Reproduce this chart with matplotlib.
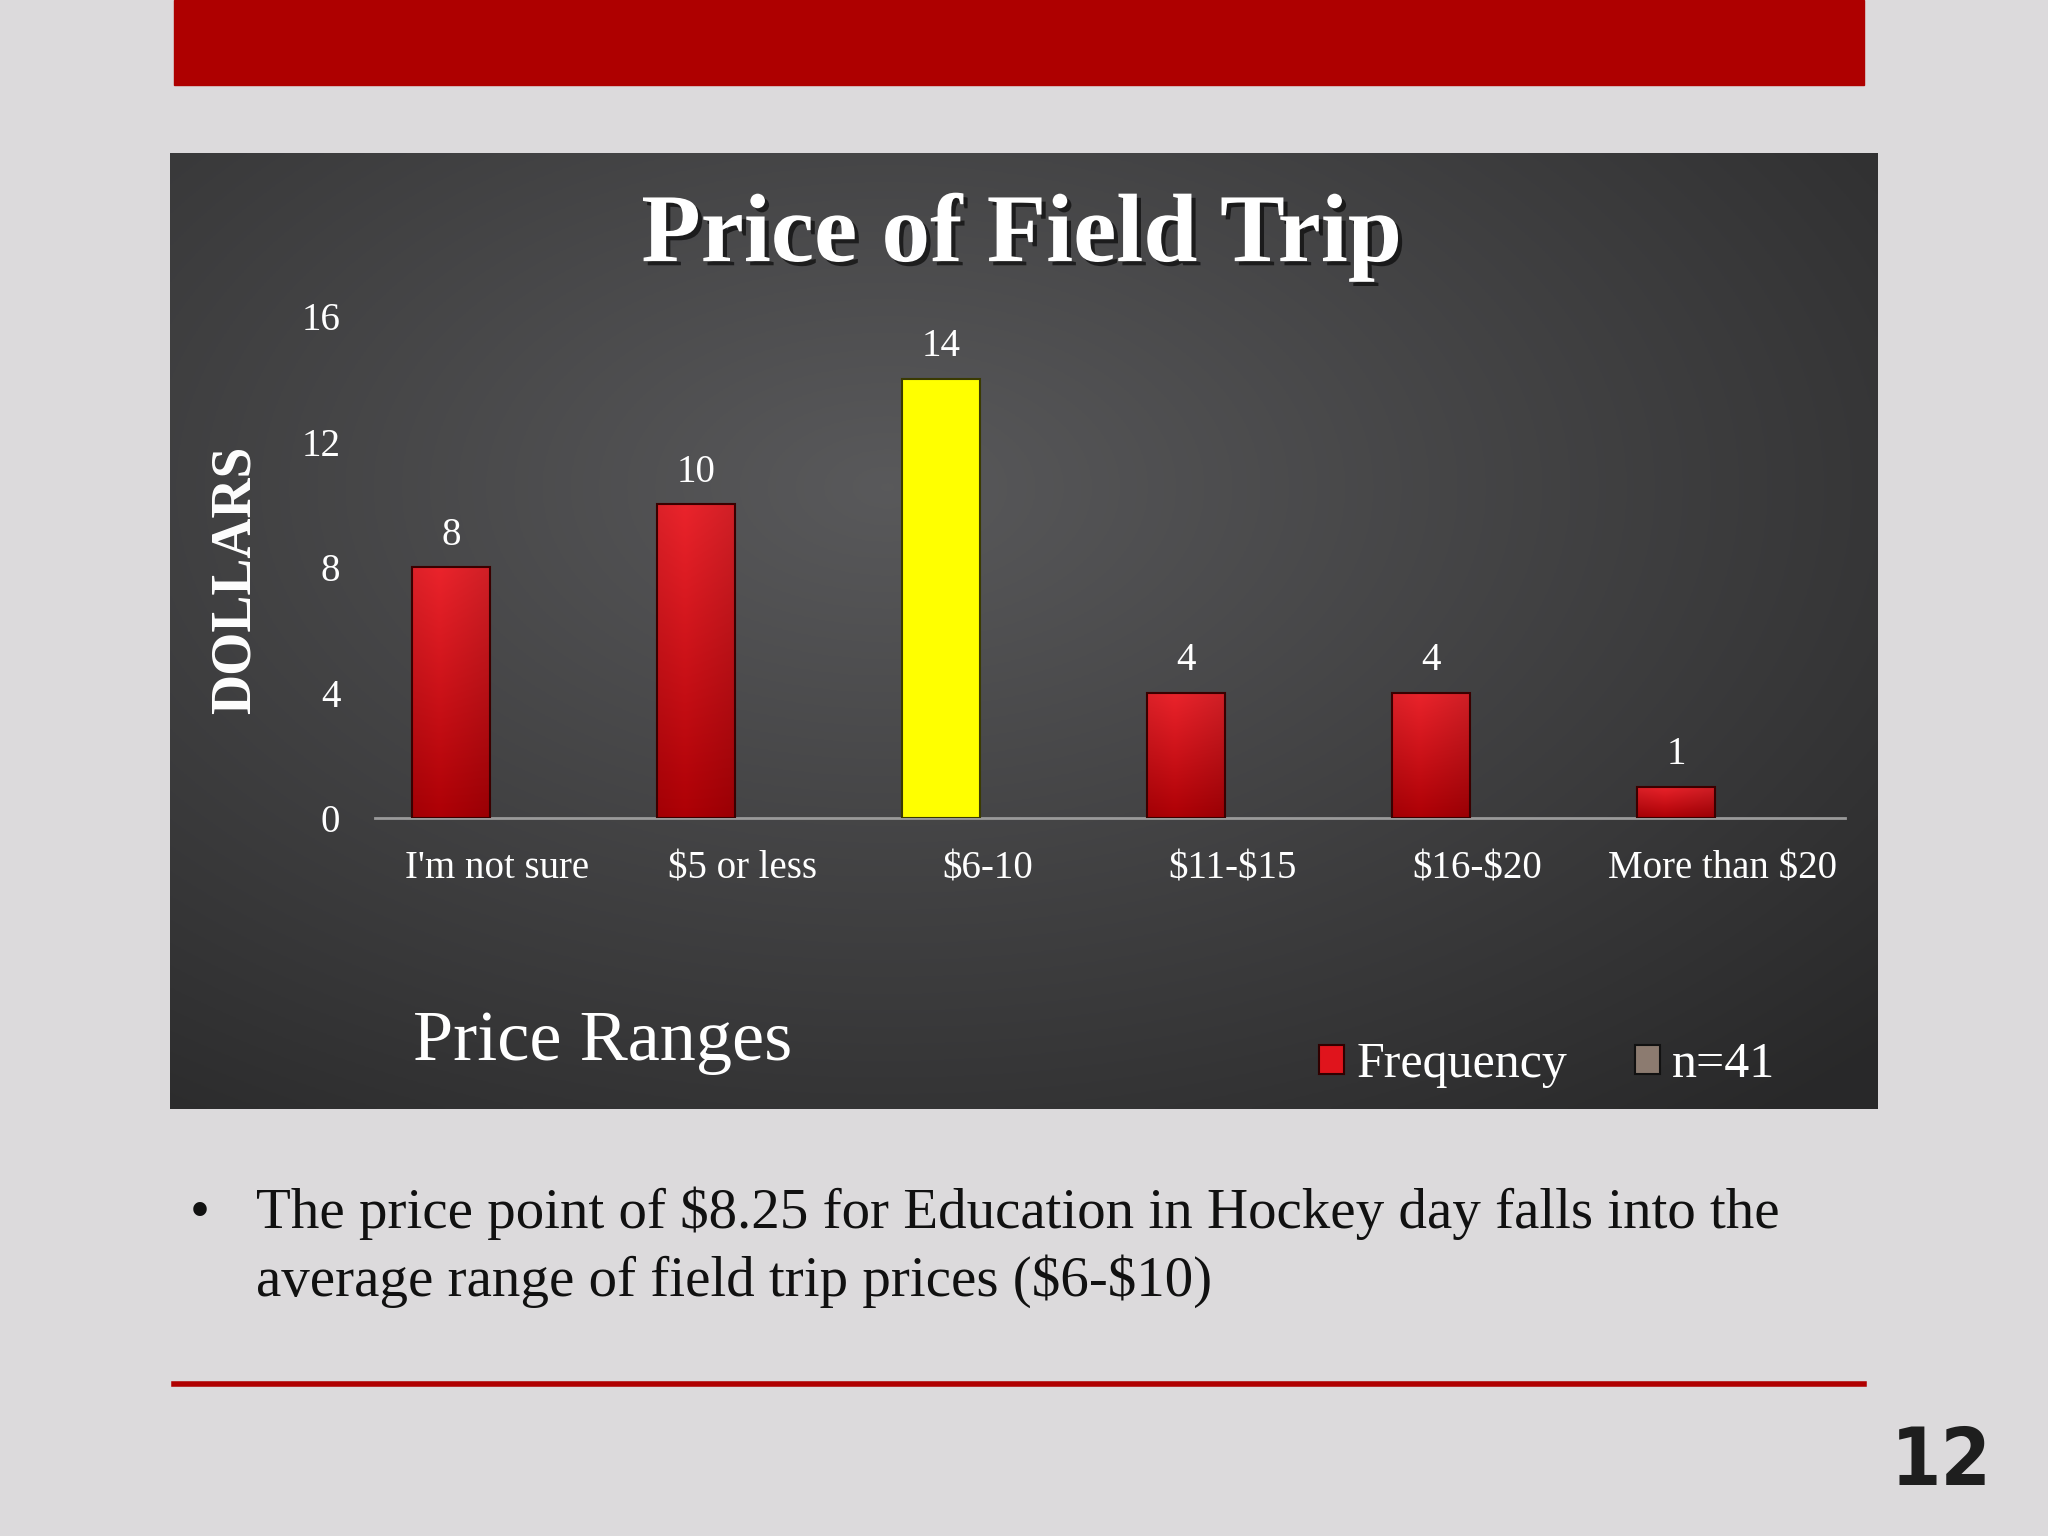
import numpy as np
import matplotlib
matplotlib.use('Agg')
import matplotlib.pyplot as plt
import matplotlib.patheffects as pe
from matplotlib.patches import Rectangle, Patch
from matplotlib.lines import Line2D

# chart data
categories = ["I'm not sure", "$5 or less", "$6-10", "$11-$15", "$16-$20", "More than $20"]
frequency = [8, 10, 14, 4, 4, 1]
n_series = [0, 0, 0, 0, 0, 0]
y_ticks = [0, 4, 8, 12, 16]
highlight = "$6-10"
bullet_lines = ["The price point of $8.25 for Education in Hockey day falls into the",
                "average range of field trip prices ($6-$10)"]

plt.rcParams['text.parse_math'] = False
plt.rcParams['font.family'] = ['Liberation Serif', 'DejaVu Serif']

fig = plt.figure(figsize=(20.48, 15.36), dpi=100, facecolor='#dcdadc')

# red header band and footer rule
fig.add_artist(Rectangle((0.085, 0.9447), 0.825, 0.0553, transform=fig.transFigure,
                         color='#ae0000', zorder=0))
fig.add_artist(Line2D([0.085, 0.910], [0.099, 0.099], transform=fig.transFigure,
                      color='#b00000', lw=4))

# dark panel with radial glow
bg = fig.add_axes([0.0830, 0.278, 0.8335, 0.6224])
bg.axis('off')
yy, xx = np.mgrid[0:1:300j, 0:1:600j]
r = np.sqrt(((xx - 0.42) / 0.80) ** 2 + ((yy - 0.35) / 0.85) ** 2)
g = 0.35 - 0.19 * np.clip(r, 0, 1)
bg.imshow(np.dstack([g, g, g * 1.02]).clip(0, 1), extent=[0, 1, 0, 1],
          aspect='auto', origin='upper')

ax = fig.add_axes([0.1831, 0.4674, 0.7178, 0.3268])
ax.patch.set_visible(False)
x = np.arange(len(categories))
colors = ['#ffff00' if c == highlight else 'none' for c in categories]
edges = ['#3a3a00' if c == highlight else '#3a0000' for c in categories]
bars = ax.bar(x - 0.19, frequency, 0.32, color=colors, edgecolor=edges,
              linewidth=1.5, zorder=3)
ax.bar(x + 0.19, n_series, 0.32, color='#8c7b70', linewidth=0, zorder=3)

# red gradient fill, clipped to each bar
top = np.array([0.92, 0.14, 0.17])
bot = np.array([0.68, 0.00, 0.02])
vv, uu = np.mgrid[0:1:100j, 0:1:40j]
shade = 1 - 0.18 * np.abs(uu - 0.35)
grad = (top[None, None, :] * (1 - vv[..., None]) + bot[None, None, :] * vv[..., None]) * shade[..., None]
for b, c in zip(bars, categories):
    if c == highlight:
        continue
    im = ax.imshow(grad.clip(0, 1), extent=[b.get_x(), b.get_x() + b.get_width(), 0, b.get_height()],
                   aspect='auto', origin='upper', zorder=2)
    im.set_clip_path(b)

for b, v in zip(bars, frequency):
    ax.annotate(str(v), (b.get_x() + b.get_width() / 2, v), xytext=(0, 23),
                textcoords='offset points', ha='center', va='center',
                color='white', fontsize=28)

ax.set_xlim(-0.5, 5.5)
ax.set_ylim(0, 16)
ax.set_yticks(y_ticks)
ax.set_xticks(x)
ax.set_xticklabels(categories)
for s in ['top', 'right', 'left']:
    ax.spines[s].set_visible(False)
ax.spines['bottom'].set_color('#9a9a9a')
ax.spines['bottom'].set_linewidth(2)
ax.tick_params(axis='both', length=0, labelcolor='white', labelsize=28)
ax.tick_params(axis='y', pad=25)
ax.tick_params(axis='x', pad=23)

# titles
fig.text(0.499, 0.830, 'Price of Field Trip', ha='center', va='baseline', fontsize=70,
         fontweight='bold', color='white',
         path_effects=[pe.withSimplePatchShadow(offset=(3, -3), shadow_rgbFace='black', alpha=0.6)])
fig.text(0.1148, 0.6224, 'DOLLARS', rotation=90, ha='center', va='center', fontsize=40,
         fontweight='bold', color='white')
fig.text(0.2015, 0.310, 'Price Ranges', fontsize=52, color='white', va='baseline')

handles = [Patch(facecolor='#e0141c', edgecolor='#300000', lw=1.5),
           Patch(facecolor='#8c7b70', edgecolor='#111111', lw=1.5)]
fig.legend(handles, ['Frequency', 'n=41'], loc='center left', bbox_to_anchor=(0.644, 0.3066),
           ncol=2, frameon=False, fontsize=36, labelcolor='white', handlelength=0.5,
           handleheight=0.5, handletextpad=0.25, columnspacing=1.35, borderpad=0,
           borderaxespad=0)

# bullet text under the chart
fig.text(0.0977, 0.2005, '\u2022', ha='center', va='baseline', fontsize=41, color='#111111')
fig.text(0.125, 0.2005, bullet_lines[0], va='baseline', fontsize=41, color='#111111')
fig.text(0.125, 0.1563, bullet_lines[1], va='baseline', fontsize=41, color='#111111')

fig.text(0.9727, 0.0332, '12', ha='right', va='baseline', fontsize=58, fontweight='bold',
         family=['Liberation Sans Narrow', 'DejaVu Sans'], fontstretch='condensed',
         color='#1e1e1e')

fig.savefig('out.png', dpi=100, facecolor=fig.get_facecolor())
